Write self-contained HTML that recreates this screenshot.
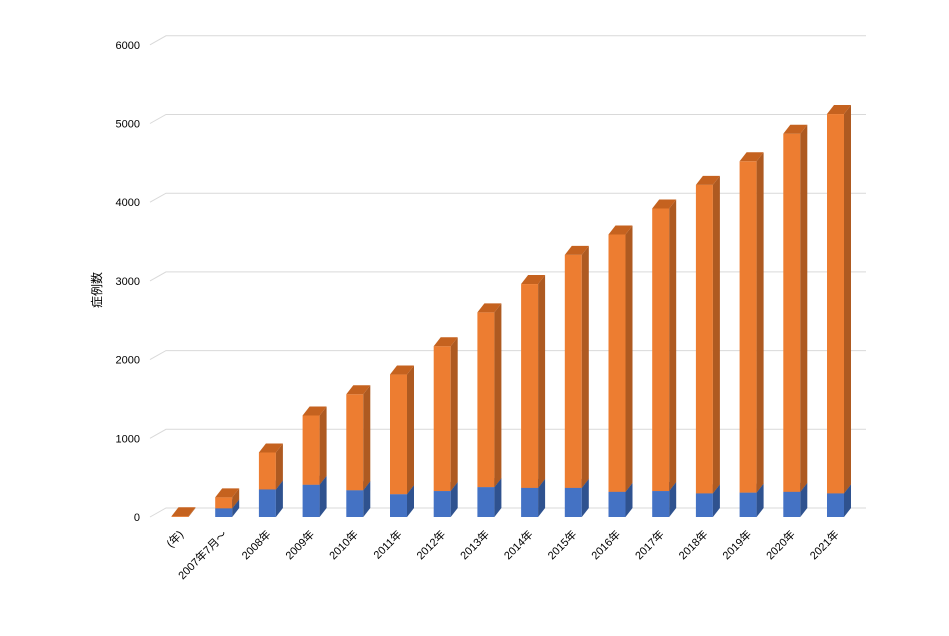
<!DOCTYPE html>
<html><head><meta charset="utf-8"><style>
body{margin:0;background:#fff}
svg{display:block;font-family:"Liberation Sans","Noto Sans CJK JP",sans-serif}
</style></head><body>
<svg id="c" width="949" height="636"></svg>
<script>
const categories=["(年)","2007年7月～","2008年","2009年","2010年","2011年","2012年","2013年","2014年","2015年","2016年","2017年","2018年","2019年","2020年","2021年"];
const blueValues=[0,110,350,410,340,290,330,380,370,370,320,330,300,310,320,300];
const orangeValues=[10,140,470,880,1220,1520,1840,2220,2590,2960,3270,3590,3920,4210,4550,4820];
const yTicks=[0,1000,2000,3000,4000,5000,6000];
const NS="http://www.w3.org/2000/svg";
const svg=document.getElementById("c");
function el(t,a,p){const e=document.createElementNS(NS,t);for(const k in a)e.setAttribute(k,a[k]);(p||svg).appendChild(e);return e;}
const y0=517,yScale=78.7/1000,dx=7,dy=-9;
function y(v){return y0-v*yScale;}
function xc(i){return 180+i*43.7;}
const bw=17;
// gridlines
yTicks.forEach(t=>{
  const g=el("g",{});
  
  
  el("polyline",{points:`150,${y(t)} ${150+16},${y(t)+dy} 866,${y(t)+dy}`,fill:"none",stroke:"#d9d9d9","stroke-width":1},g);
  const tx=el("text",{x:140,y:y(t)+4,"text-anchor":"end","font-size":11,fill:"#000"});
  tx.textContent=t;
  
  
});
const yt=el("text",{x:101,y:290,"font-size":12,"text-anchor":"middle",transform:"rotate(-90 101 290)"});
yt.textContent="症例数";


function box(x,yb,yt,front,side,top,g){
  el("rect",{x:x,y:yt,width:bw,height:Math.max(0,yb-yt),fill:front},g);
  el("polygon",{points:`${x+bw},${yb} ${x+bw+dx},${yb+dy} ${x+bw+dx},${yt+dy} ${x+bw},${yt}`,fill:side},g);
  el("polygon",{points:`${x},${yt} ${x+dx},${yt+dy} ${x+bw+dx},${yt+dy} ${x+bw},${yt}`,fill:top},g);
}
categories.forEach((c,i)=>{
  const x=xc(i)-bw/2;
  const g=el("g",{});
  
  
  const b=blueValues[i],o=orangeValues[i];
  if(b>0)box(x,y(0),y(b),"#4472c4","#2f528f","#3a63ad",g);
  box(x,y(b),y(b+o),"#ed7d31","#ae5a21","#c5621f",g);
  const lx=xc(i)+4,ly=535;
  const t=el("text",{x:lx,y:ly,"font-size":11,"text-anchor":"end",transform:`rotate(-45 ${lx} ${ly})`});
  t.textContent=c;
  
  
});
</script>
</body></html>
